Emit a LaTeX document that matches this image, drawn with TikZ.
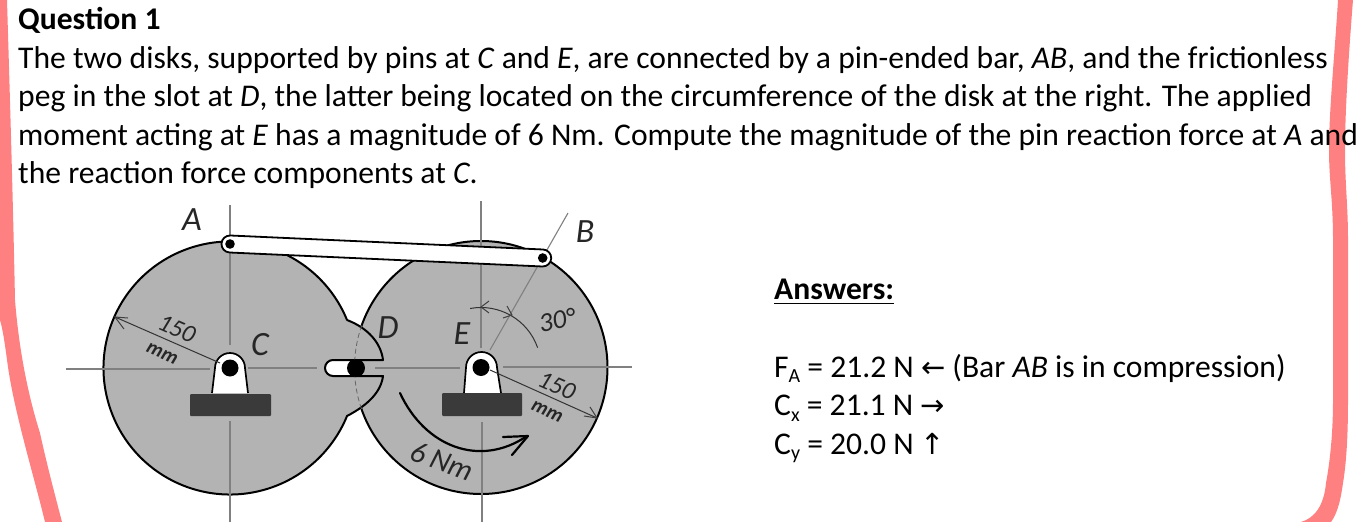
\documentclass[tikz,border=0pt]{standalone}
\usepackage{fontspec}
\setmainfont{Carlito}
\newfontfamily\arrowfont{DejaVu Sans}
\definecolor{pinkband}{HTML}{FF8080}
\definecolor{diskgray}{HTML}{B3B3B3}
\definecolor{basegray}{HTML}{3A3A3A}
\definecolor{axisgray}{HTML}{808080}
\newcommand{\sbs}[1]{\raisebox{-0.18em}{\fontsize{20}{20}\selectfont #1}}
\newcommand{\arr}[1]{{\arrowfont\fontsize{29}{29}\selectfont #1}}
\tikzset{
  body/.style={font=\fontsize{31.6}{38}\selectfont,anchor=base west,inner sep=0pt},
  hand/.style={font=\fontsize{#1}{#1}\selectfont\itshape,inner sep=0pt,text=black!85},
  hand/.default=34,
  axis/.style={draw=axisgray,line width=1.1pt},
  disk/.style={fill=diskgray,draw=black,line width=2pt},
  head/.style={draw=black!75,line width=1pt},
  dim/.style={draw=black!80,line width=1pt},
  mount/.style={fill=white,draw=black,line width=1.7pt},
  pin/.style={fill=black,draw=none},
  footing/.style={fill=basegray,draw=none,rounded corners=1pt},
}
\begin{document}
\begin{tikzpicture}[x=1pt,y=-1pt]
\useasboundingbox (0,0) rectangle (1361,522);
% pink side bands
\fill[pinkband] (0,0) -- (7,0) .. controls (10,100) and (13,200) .. (15,300)
  .. controls (19,350) and (28,395) .. (40,433) .. controls (47,465) and (55,495) .. (62,522)
  -- (45,522) .. controls (35,480) and (15,415) .. (8,367) .. controls (5,345) and (3,330) .. (0,320) -- cycle;
\fill[pinkband] (1338,0) -- (1353,0) .. controls (1349,50) and (1345,110) .. (1345,150)
  .. controls (1345,185) and (1348,205) .. (1348,240) -- (1348,400)
  .. controls (1348,440) and (1346,465) .. (1343,483) .. controls (1340,505) and (1336,515) .. (1331,522)
  -- (1301,522) .. controls (1315,518) and (1324,505) .. (1326,483)
  .. controls (1332,450) and (1333,420) .. (1333,400) -- (1333,240)
  .. controls (1333,200) and (1329,180) .. (1329,150) .. controls (1329,110) and (1335,50) .. (1338,0) -- cycle;
% key points
\coordinate (C) at (230,368);
\coordinate (E) at (481,367.5);
\coordinate (A) at (230,244);
\coordinate (B) at (542.7,258);
\coordinate (D) at (356,368);
% right disk
\draw[disk] (E) circle[radius=126.5];
% left disk with lobe and slot
\draw[disk,line join=round] (C) ++(-22.3:126.5) arc[start angle=-22.3,end angle=-337.7,radius=126.5]
  .. controls (368,405) and (381,392) .. (383,376) -- (333,376)
  arc[start angle=90,end angle=270,radius=8] -- (383,360)
  .. controls (381,343) and (368,328) .. (347,320) -- cycle;
% circumference of right disk inside the lobe
\draw[black!60,line width=0.8pt,dash pattern=on 5pt off 3pt] (E) ++(-160.6:126.5) arc[start angle=-160.6,end angle=-199.4,radius=126.5];
% centre lines
\draw[axis] (230,205) -- (230,345) (230,421) -- (230,522);
\draw[axis] (66,369) -- (210,369) (248,368) -- (317,368);
\draw[axis] (481,201) -- (481,348) (482,422) -- (482,522);
\draw[axis] (375,368) -- (460,368) (503,367) -- (632,367);
\draw[axis] (490,350) -- (568,213);
% angle arc
\draw[dim] (E) ++(-100.5:60) arc[start angle=-100.5,end angle=-19.3,radius=60];
\draw[head] (489,301) -- (481,307) -- (489,313) (503,318) -- (512,315) -- (507,306);
% bar
\draw[fill=white,draw=black,line width=1.8pt] (230.4,235.5) -- (543.1,249.5)
  arc[start angle=-87.5,end angle=92.5,radius=8.5] -- (229.6,252.5)
  arc[start angle=92.5,end angle=272.5,radius=8.5] -- cycle;
\fill[pin] (A) circle[radius=4.8];
\fill[pin] (B) circle[radius=4.8];
% supports
\draw[mount] (212,393) -- (215,368) arc[start angle=180,end angle=360,radius=15] -- (248,393);
\fill[pin] (C) circle[radius=8.5];
\fill[footing] (190,394) rectangle (271,416);
\draw[mount] (464,393) -- (466,367.5) arc[start angle=180,end angle=360,radius=15.5] -- (501,393);
\fill[pin] (E) circle[radius=8.5];
\fill[footing] (442,393) rectangle (522,416);
% peg
\fill[pin] (D) circle[radius=9];
% dimensions
\draw[dim] (220,363) -- (115,317);
\draw[head] (128,318) -- (115,317) -- (124,329);
\draw[dim] (490,370) -- (597,418);
\draw[head] (584,416) -- (597,418) -- (590,407);
% moment arrow
\draw[black,line width=2.2pt,line cap=round] (400,393) .. controls (425,447) and (480,468) .. (527,436);
\draw[black,line width=2.2pt,line cap=round,line join=round] (503,437) -- (528,436) -- (512,455);
% drawing labels
\node[hand] (lA) at (192,220) {A};
\node[hand] (lB) at (585,232) {B};
\node[hand] (lC) at (260,345) {C};
\node[hand] (lD) at (388,328) {D};
\node[hand] (lE) at (462,334) {E};
\node[hand=27,rotate=10] (l30) at (557,320) {30°};
\node[hand=25,rotate=-24] (l150a) at (177,329) {150};
\node[hand=20,rotate=-24] (lmma) at (162,354) {\bfseries mm};
\node[hand=25,rotate=-24] (l150b) at (557,386) {150};
\node[hand=20,rotate=-24] (lmmb) at (547,412) {\bfseries mm};
\node[hand=30,rotate=-20] (l6) at (442,461) {6 Nm};
% text
\node[body] (q) at (18,29.5) {\bfseries Question 1};
\node[body] (t1) at (18,68) {The two disks, supported by pins at \emph{C} and \emph{E}, are connected by a pin-ended bar, \emph{AB}, and the frictionless};
\node[body] (t2) at (18,106.5) {peg in the slot at \emph{D}, the latter being located on the circumference of the disk at the right. The applied};
\node[body] (t3) at (18,145) {moment acting at \emph{E} has a magnitude of 6 Nm. Compute the magnitude of the pin reaction force at \emph{A} and};
\node[body] (t4) at (18,183.5) {the reaction force components at \emph{C}.};
\node[body] (ans) at (774,299.5) {\bfseries Answers:};
\draw[black,line width=1.6pt] (774,303.5) -- (894,303.5);
\node[body] (fa) at (774,377) {F\sbs{A} = 21.2 N \arr{←} (Bar \emph{AB} is in compression)};
\node[body] (cx) at (774,415.5) {C\sbs{x} = 21.1 N \arr{→}};
\node[body] (cy) at (774,454) {C\sbs{y} = 20.0 N \arr{↑}};
\end{tikzpicture}
\end{document}
